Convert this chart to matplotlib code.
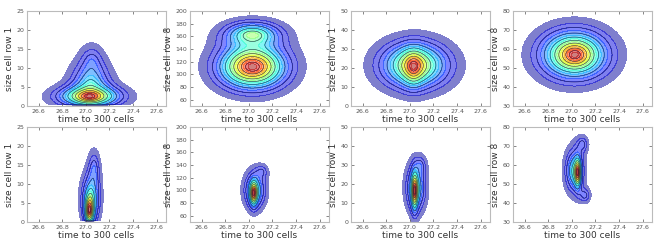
"""KDE contour grid: time to 300 cells vs cell size (rows 1 and 8)."""

import numpy as np
import matplotlib
matplotlib.use("Agg")
import matplotlib.pyplot as plt

# density read off the picture as a few bumps per panel:
# (centre time, centre size, spread time, spread size, weight)
top_row1 = [
    (27.03, 2.5, 0.22, 2.2, 1.0),
    (27.03, 2.6, 0.08, 1.4, 0.25),
    (27.04, 6.0, 0.15, 4.8, 0.5),
    (27.05, 12.0, 0.09, 4.0, 0.22),
]
top_row8 = [
    (27.03, 112.0, 0.23, 28.0, 1.0),
    (27.03, 163.0, 0.2, 17.0, 0.5),
]
top_row1b = [
    (27.04, 21.5, 0.235, 10.0, 1.0),
    (27.03, 20.0, 0.07, 8.0, 0.45),
]
top_row8b = [
    (27.02, 57.0, 0.235, 10.5, 1.0),
    (27.03, 57.0, 0.1, 5.0, 0.25),
]
bot_row1 = [
    (27.03, 3.0, 0.03, 2.8, 1.0),
    (27.04, 6.0, 0.065, 5.5, 0.6),
    (27.07, 14.0, 0.045, 4.5, 0.25),
]
bot_row8 = [
    (27.04, 95.0, 0.025, 15.0, 1.0),
    (27.05, 100.0, 0.075, 24.0, 0.65),
    (27.11, 130.0, 0.05, 10.0, 0.2),
]
bot_row1b = [
    (27.04, 16.0, 0.022, 8.0, 1.0),
    (27.05, 18.0, 0.07, 10.5, 0.65),
    (27.09, 30.0, 0.045, 4.5, 0.2),
]
bot_row8b = [
    (27.05, 56.0, 0.022, 6.0, 1.0),
    (27.02, 57.0, 0.065, 9.5, 0.6),
    (27.09, 71.0, 0.045, 4.0, 0.25),
    (27.11, 44.0, 0.045, 3.5, 0.25),
]

panel_components = [top_row1, top_row8, top_row1b, top_row8b,
                    bot_row1, bot_row8, bot_row1b, bot_row8b]
y_labels = ["size cell row 1", "size cell row 8", "size cell row 1", "size cell row 8"] * 2
y_limits = [(0, 25), (50, 200), (0, 50), (30, 80)] * 2
y_ticks = [np.arange(0, 26, 5), np.arange(60, 201, 20),
           np.arange(0, 51, 10), np.arange(30, 81, 10)] * 2
y_floor = [0.3, None, None, None, 0.3, None, None, None]
x_ticks = [26.6, 26.8, 27.0, 27.2, 27.4, 27.6]
x_label = "time to 300 cells"


def density(comps, xx, yy, power=1.6):
    z = np.zeros_like(xx)
    for cx, cy, sx, sy, w in comps:
        r = np.hypot((xx - cx) / sx, (yy - cy) / sy)
        z += w * np.exp(-r ** power)
    return z / z.max()


def main():
    fig = plt.figure(figsize=(6.64, 2.47), dpi=100)
    lefts = [27, 190, 351, 513]
    xlim = (26.5, 27.68)
    levels = np.linspace(0.05, 1.0001, 19)

    for i, comps in enumerate(panel_components):
        row, col = divmod(i, 4)
        bottom = 1 - (222 if row else 106) / 247
        ax = fig.add_axes([lefts[col] / 664, bottom, 139 / 664, 95 / 247])

        ylo, yhi = y_limits[i]
        xs = np.linspace(xlim[0], xlim[1], 500)
        ys = np.linspace(ylo, yhi, 500)
        xx, yy = np.meshgrid(xs, ys)
        z = density(comps, xx, yy)
        if y_floor[i] is not None:
            z[yy < y_floor[i]] = 0

        ax.contourf(xx, yy, z, levels=levels, cmap="jet", alpha=0.5)
        ax.contour(xx, yy, z, levels=levels[2::2], colors="#202040",
                   linewidths=0.5, alpha=0.75)

        ax.set_xlim(xlim)
        ax.set_ylim(ylo, yhi)
        ax.set_xticks(x_ticks)
        ax.set_xticklabels([f"{t:.1f}" for t in x_ticks])
        ax.set_yticks(y_ticks[i])
        ax.tick_params(direction="in", length=2, width=0.5, labelsize=4.5,
                       colors="#555555", top=True, right=True, pad=2)
        for sp in ax.spines.values():
            sp.set_color("#bbbbbb")
            sp.set_linewidth(0.8)
        ax.set_xlabel(x_label, fontsize=6.5, color="#333333", labelpad=1)
        ax.set_ylabel(y_labels[i], fontsize=6.5, color="#333333", labelpad=2)

    fig.savefig("out.png", dpi=100)
    plt.close(fig)


if __name__ == "__main__":
    main()
